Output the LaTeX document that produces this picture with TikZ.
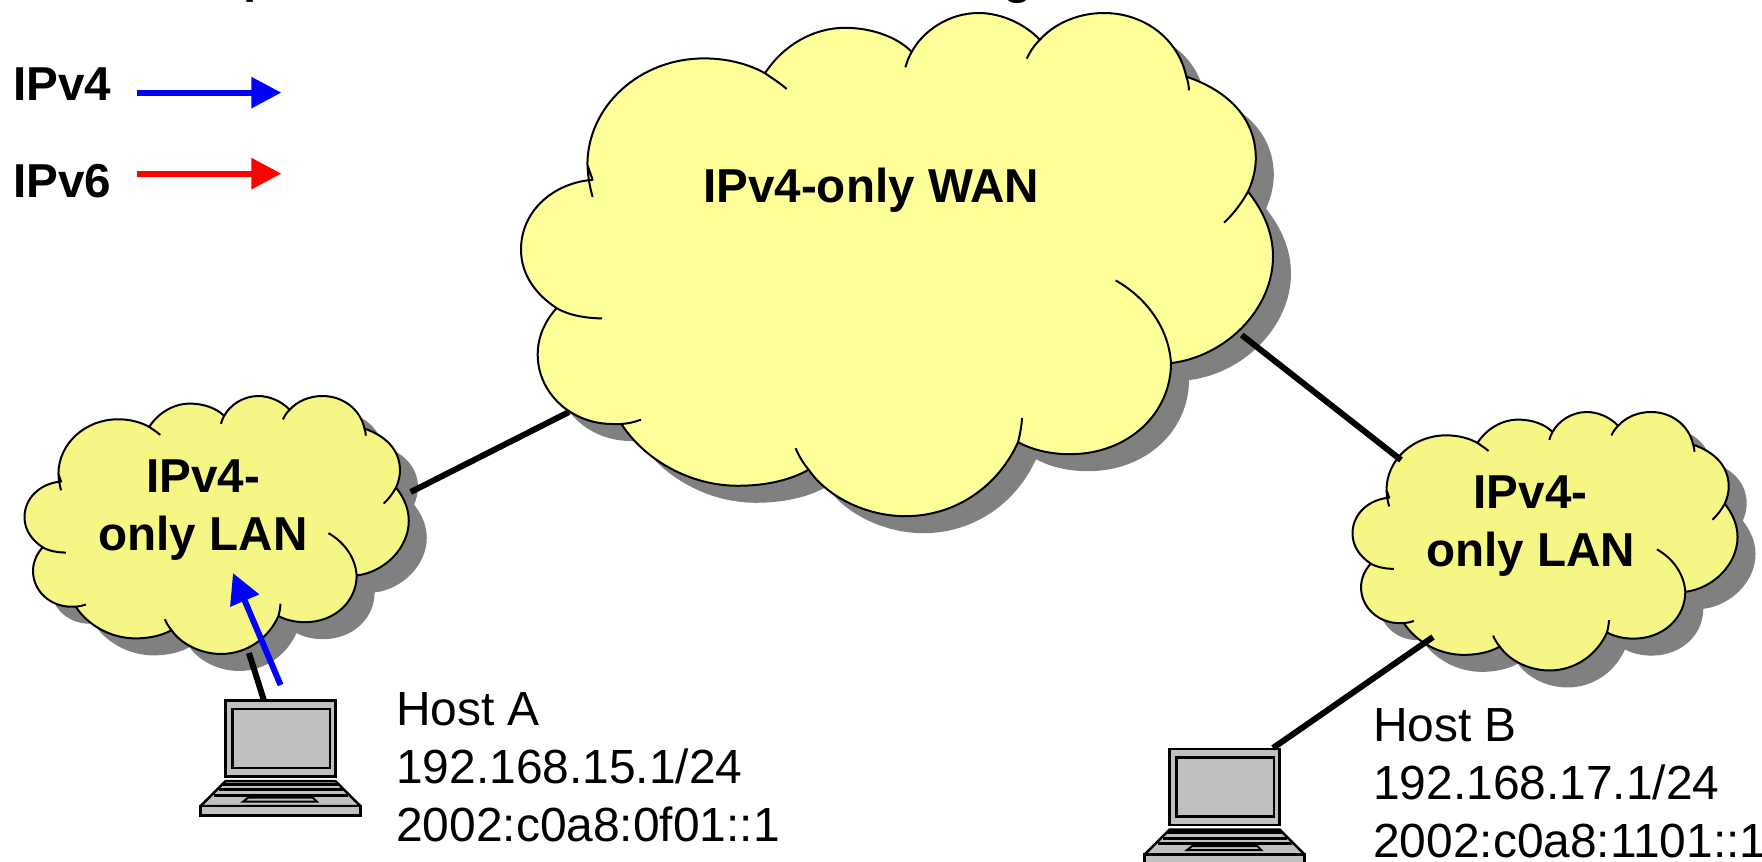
\documentclass[tikz,border=0pt]{standalone}
\usepackage{fontspec}
\setmainfont{Liberation Sans}
\usetikzlibrary{positioning, arrows.meta}

\definecolor{wanyellow}{HTML}{FFFF99}
\definecolor{lanyellow}{HTML}{F6F686}
\definecolor{shadowgray}{HTML}{808080}
\definecolor{hostgray}{HTML}{C0C0C0}

% outline of one cloud, in the pixels of the big one
\newcommand{\cloudoutline}{(71.6,169) -- (66.4,154)
  .. controls (66.4,94) and (119,46) .. (183,46)
  .. controls (207,46) and (228,52) .. (244,61)
  .. controls (262,33) and (292,15) .. (324,15)
  .. controls (350,15) and (376,24) .. (390.7,39.4)
  .. controls (402,18) and (428,0) .. (457.6,0)
  .. controls (480,0) and (504,11) .. (518.8,27.2)
  .. controls (534,10) and (558,0) .. (583,0)
  .. controls (622,0) and (657,25) .. (665.3,64.5)
  .. controls (705,78) and (734.8,105) .. (734.8,147.4)
  .. controls (734.8,158) and (732,170) .. (727,181)
  .. controls (742,200) and (752,222) .. (752,246.7)
  .. controls (752,300) and (705,348) .. (650,354.7)
  .. controls (650,405) and (608,447) .. (549,447)
  .. controls (530,447) and (512,443) .. (497,434.8)
  .. controls (478,478) and (436,509.8) .. (384.4,509.8)
  .. controls (345,509.8) and (306,490) .. (287.7,462.7)
  .. controls (268,474) and (243,479) .. (217,479)
  .. controls (168,479) and (123,452) .. (100.4,416.4)
  .. controls (97,417) and (94,416.4) .. (91.5,416.4)
  .. controls (50,416.4) and (16.7,385) .. (16.7,346)
  .. controls (16.7,328) and (24,312) .. (35.6,299)
  .. controls (16,286) and (0,266) .. (0,239.7)
  .. controls (0,200) and (33,172) .. (71.6,169) -- cycle}
\newcommand{\cloudtails}{(66.6,154) .. controls (66.6,165) and (69,177) .. (71.6,186.4)
  (244,61) .. controls (251,66) and (259,71) .. (265.7,77)
  (384.4,55) .. controls (386,49) and (388,44) .. (390.7,39.4)
  (505.8,46.3) .. controls (509,39) and (513,33) .. (518.8,27.2)
  (665.3,64.5) .. controls (667,69) and (667.9,74) .. (667.9,78.4)
  (727,181) .. controls (721,192) and (713,203) .. (703,212.5)
  (594.7,271) .. controls (628,290) and (648,322) .. (650,354.7)
  (501,410.5) .. controls (500.5,419) and (499,427) .. (497,434.8)
  (274.6,441) .. controls (278,449) and (282,456) .. (287.7,462.7)
  (120,412) .. controls (112,415) and (106,416) .. (100.4,416.4)
  (35.6,299) .. controls (47,306) and (65,309.4) .. (81,309.4)}
\newcommand{\drawcloud}[5]{
  \fill[shadowgray,shift={(#1+18,#2+17)},xscale=#3,yscale=#4] \cloudoutline;
  \fill[#5,shift={(#1,#2)},xscale=#3,yscale=#4] \cloudoutline;
  \draw[cloudline,shift={(#1,#2)},xscale=#3,yscale=#4] \cloudoutline \cloudtails;
}

\tikzset{
  x=1pt, y=-1pt,
  cloudline/.style={black,line width=2pt,line join=round},
  label/.style={inner sep=0pt,font=\fontsize{47.6}{58}\selectfont},
  boldlabel/.style={label,font=\fontsize{47.6}{58}\selectfont\bfseries,align=center},
  hostlabel/.style={label,align=left,anchor=base west,font=\fontsize{47.9}{58}\selectfont},
  link/.style={black,line width=6pt},
  flow/.style={line width=6pt,-{Triangle[length=30pt,width=30pt]}},
  pics/laptop/.style={code={
    \draw[black,line width=2.5pt,fill=hostgray] (0,0) rectangle (110,76);
    \draw[black,line width=2.5pt] (7,8.5) rectangle (104.5,67.5);
    \draw[black,line width=2.5pt,fill=hostgray,line join=round] (0,80.5) -- (110,80.5) -- (135,105.5) -- (-25,105.5) -- cycle;
    \draw[black,line width=2.5pt,fill=hostgray] (-25,105.5) rectangle (135,115);
    \draw[black,line width=3pt] (-3,83.5) -- (113,83.5) (-7,89) -- (117,89) (-12,94.5) -- (122,94.5);
    \draw[black,line width=2pt] (22.5,97) -- (87.5,97) -- (91.5,101) -- (17.5,101) -- cycle;
  }}
}

\begin{document}
\begin{tikzpicture}
    \useasboundingbox (0,0) rectangle (1762,862);

    \drawcloud{521}{13}{1}{.987}{wanyellow}
    \drawcloud{24.5}{396}{.511}{.506}{lanyellow}
    \drawcloud{1352.5}{412}{.512}{.507}{lanyellow}

    % what is left of the title
    \node(title_p)[label,anchor=base west,font=\fontsize{47.6}{58}\selectfont\bfseries] at (243,-7){p};
    \node(title_g)[label,anchor=base west,font=\fontsize{47.6}{58}\selectfont\bfseries] at (1003,-6){g};

    \node(label_wan)[boldlabel,anchor=base west] at (703,202){IPv4-only WAN};
    \node(label_lan_a)[boldlabel,anchor=base] at (203,550){IPv4-\\only LAN};
    \node(label_lan_b)[boldlabel,anchor=base] at (1530.5,566){IPv4-\\only LAN};

    \node(label_v4)[boldlabel,anchor=base west] at (13,100){IPv4};
    \node(label_v6)[boldlabel,anchor=base west] at (13,197){IPv6};
    \coordinate[right=26pt of label_v4,yshift=-9pt] (v4_start);
    \coordinate[right=170pt of label_v4,yshift=-9pt] (v4_end);
    \coordinate[right=26pt of label_v6,yshift=7pt] (v6_start);
    \coordinate[right=170pt of label_v6,yshift=7pt] (v6_end);

    \pic at (225.5,700.7) {laptop};
    \pic at (1169.7,749) {laptop};

    \node(label_host_a)[hostlabel] at (396,841){Host A\\192.168.15.1/24\\2002:c0a8:0f01::1};
    \node(label_host_b)[hostlabel] at (1373,857){Host B\\192.168.17.1/24\\2002:c0a8:1101::1};

    \coordinate(lan_a_east) at (410.7,492);
    \coordinate(wan_west) at (569,412);
    \coordinate(wan_east) at (1241.7,335);
    \coordinate(lan_b_north) at (1401,460);
    \coordinate(lan_a_south) at (249,653);
    \coordinate(host_a_top) at (264,700.7);
    \coordinate(lan_b_south) at (1433,637);
    \coordinate(host_b_top) at (1273,748);
    \coordinate(flow_start) at (280.6,685);
    \coordinate(flow_end) at (233,573);

    \path[every edge/.append style=link]

    (lan_a_east) edge (wan_west)
    (wan_east) edge (lan_b_north)
    (lan_a_south) edge (host_a_top)
    (lan_b_south) edge (host_b_top)
    ;

    \path[every edge/.append style=flow]

    (v4_start) edge[blue] (v4_end)
    (v6_start) edge[red] (v6_end)
    (flow_start) edge[blue] (flow_end)
    ;
  \end{tikzpicture}
\end{document}
